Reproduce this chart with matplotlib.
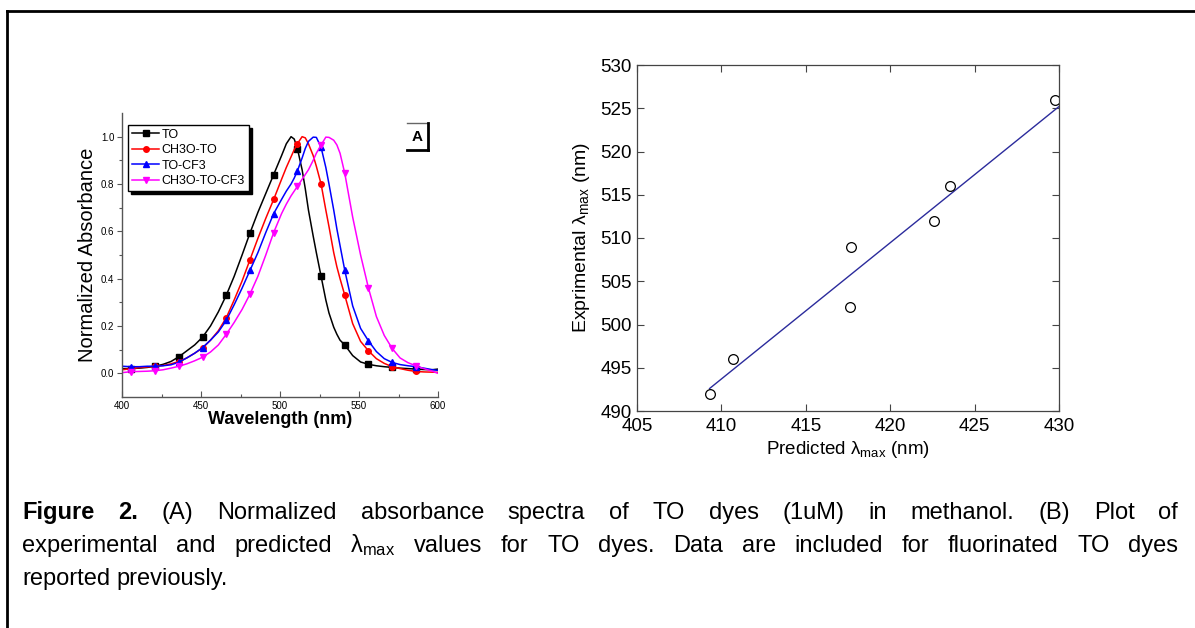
import matplotlib
matplotlib.use('Agg')
import matplotlib.pyplot as plt
from matplotlib.lines import Line2D
import numpy as np

plt.rcParams['font.family'] = ['Liberation Sans', 'DejaVu Sans']
plt.rcParams['mathtext.fontset'] = 'custom'
plt.rcParams['mathtext.rm'] = 'Liberation Sans'
plt.rcParams['mathtext.it'] = 'Liberation Sans:italic'

# ---- panel A: normalized absorbance spectra ----
wavelength = [400, 406, 411, 416, 421, 426, 431, 436, 441, 446, 451, 456, 461, 466, 471,
              476, 481, 486, 491, 496, 501, 504, 507, 509, 511, 514, 516, 518, 521, 523,
              526, 529, 531, 534, 536, 538, 541, 546, 551, 556, 561, 566, 571, 576, 581,
              586, 591, 596, 600]
abs_to = [0.020, 0.020, 0.022, 0.025, 0.030, 0.038, 0.050, 0.070, 0.095, 0.120, 0.153, 0.200,
          0.260, 0.330, 0.410, 0.500, 0.593, 0.680, 0.760, 0.840, 0.920, 0.970, 1.000, 0.990,
          0.950, 0.860, 0.780, 0.690, 0.580, 0.510, 0.410, 0.310, 0.255, 0.195, 0.165, 0.140,
          0.120, 0.075, 0.048, 0.038, 0.032, 0.028, 0.025, 0.022, 0.020, 0.018, 0.016, 0.015,
          0.018]
abs_ch3o_to = [0.015, 0.020, 0.024, 0.027, 0.030, 0.033, 0.040, 0.050, 0.065, 0.085, 0.107,
               0.140, 0.180, 0.235, 0.310, 0.390, 0.480, 0.570, 0.655, 0.735, 0.820, 0.870,
               0.915, 0.945, 0.970, 1.000, 0.995, 0.970, 0.920, 0.875, 0.800, 0.690, 0.620,
               0.510, 0.450, 0.400, 0.330, 0.210, 0.135, 0.095, 0.062, 0.042, 0.028, 0.020,
               0.013, 0.008, 0.006, 0.005, 0.004]
abs_to_cf3 = [0.030, 0.028, 0.028, 0.030, 0.030, 0.032, 0.036, 0.047, 0.065, 0.085, 0.109,
              0.140, 0.175, 0.224, 0.290, 0.360, 0.435, 0.510, 0.595, 0.675, 0.735, 0.770,
              0.800, 0.825, 0.855, 0.910, 0.950, 0.980, 0.998, 0.997, 0.955, 0.870, 0.800,
              0.690, 0.610, 0.540, 0.435, 0.285, 0.190, 0.137, 0.092, 0.062, 0.046, 0.037,
              0.032, 0.028, 0.022, 0.016, 0.012]
abs_ch3o_to_cf3 = [0.003, 0.007, 0.008, 0.009, 0.011, 0.015, 0.022, 0.030, 0.040, 0.053, 0.068,
                   0.090, 0.120, 0.165, 0.215, 0.270, 0.335, 0.410, 0.500, 0.595, 0.675, 0.715,
                   0.750, 0.770, 0.790, 0.820, 0.840, 0.860, 0.900, 0.930, 0.965, 0.998, 0.997,
                   0.985, 0.965, 0.930, 0.845, 0.660, 0.500, 0.360, 0.240, 0.160, 0.105, 0.065,
                   0.045, 0.032, 0.020, 0.010, 0.000]
marker_wl = [406, 421, 436, 451, 466, 481, 496, 511, 526, 541, 556, 571, 586]
dye_names = ['TO', 'CH3O-TO', 'TO-CF3', 'CH3O-TO-CF3']
dye_colors = ['black', '#ff0000', '#0000ff', '#ff00ff']
dye_markers = ['s', 'o', '^', 'v']

# ---- panel B: predicted vs experimental lambda max ----
pred_lmax = [409.3, 410.7, 417.65, 417.6, 422.6, 423.55, 429.75]
exp_lmax = [492, 496, 509, 502, 512, 516, 526]
fit_x = [409.3, 430.0]
fit_y = [492.6, 525.2]

W, H = 1195, 628
fig = plt.figure(figsize=(W / 100, H / 100), dpi=100, facecolor='white')

# panel A
axA = fig.add_axes([122 / W, 1 - 397 / H, 316 / W, 284 / H])
mk_idx = [wavelength.index(w) for w in marker_wl]
for vals, name, c, m in zip([abs_to, abs_ch3o_to, abs_to_cf3, abs_ch3o_to_cf3],
                            dye_names, dye_colors, dye_markers):
    axA.plot(wavelength, vals, color=c, lw=1.1, marker=m, ms=4, markevery=mk_idx, label=name)
axA.set_xlim(400, 600)
axA.set_ylim(-0.1, 1.1)
axA.set_xticks([400, 450, 500, 550, 600])
axA.set_xticks([425, 475, 525, 575], minor=True)
axA.set_yticks([0.0, 0.2, 0.4, 0.6, 0.8, 1.0])
axA.set_yticks([0.1, 0.3, 0.5, 0.7, 0.9], minor=True)
axA.set_yticklabels(['0.0', '0.2', '0.4', '0.6', '0.8', '1.0'])
axA.spines['top'].set_visible(False)
axA.spines['right'].set_visible(False)
for s in ['left', 'bottom']:
    axA.spines[s].set_color('#555555')
    axA.spines[s].set_linewidth(1.0)
axA.tick_params(axis='both', which='both', labelsize=7, color='#555555', width=0.8)
axA.tick_params(axis='x', which='major', direction='in', length=4, pad=3)
axA.tick_params(axis='x', which='minor', direction='in', length=2.5)
axA.tick_params(axis='y', which='major', direction='out', length=3.5, pad=2)
axA.tick_params(axis='y', which='minor', direction='out', length=2)
axA.set_xlabel('Wavelength (nm)', fontsize=13, fontweight='bold', labelpad=0)
axA.set_ylabel('Normalized Absorbance', fontsize=14.5, labelpad=3)
leg = axA.legend(loc='upper left', bbox_to_anchor=(0.019, 0.958), borderaxespad=0,
                 fontsize=9, frameon=True, fancybox=False, edgecolor='black',
                 handlelength=2.2, handletextpad=0.2, labelspacing=0.28,
                 borderpad=0.3, shadow={'color': 'black', 'alpha': 1.0})
leg.get_frame().set_linewidth(1.0)
axA.text(0.935, 0.915, 'A', transform=axA.transAxes, fontsize=11, fontweight='bold',
         ha='center', va='center')
axA.plot([0.902, 0.968], [0.965, 0.965], transform=axA.transAxes, color='#666666', lw=1,
         clip_on=False)
axA.plot([0.968, 0.968], [0.965, 0.87], transform=axA.transAxes, color='black', lw=2,
         clip_on=False)
axA.plot([0.902, 0.968], [0.87, 0.87], transform=axA.transAxes, color='black', lw=2,
         clip_on=False)

# panel B
axB = fig.add_axes([637 / W, 1 - 411 / H, 422 / W, 346 / H])
axB.plot(fit_x, fit_y, color='#2b2b9c', lw=1.0)
axB.plot(pred_lmax, exp_lmax, linestyle='none', marker='o', ms=7, mfc='none',
         mec='black', mew=0.9)
axB.set_xlim(405, 430)
axB.set_ylim(490, 530)
axB.set_xticks([405, 410, 415, 420, 425, 430])
axB.set_yticks([490, 495, 500, 505, 510, 515, 520, 525, 530])
for s in axB.spines.values():
    s.set_color('#444444')
    s.set_linewidth(0.9)
axB.tick_params(axis='both', direction='in', length=5, width=0.8, color='#444444',
                labelsize=13.5, top=True, right=True)
axB.tick_params(axis='x', pad=5)
axB.tick_params(axis='y', pad=4)
axB.set_xlabel('Predicted λ$_{\\mathrm{max}}$ (nm)', fontsize=13.5, labelpad=3)
axB.set_ylabel('Exprimental λ$_{\\mathrm{max}}$ (nm)', fontsize=14, labelpad=6)

# outer frame (top and left edges)
fig.add_artist(Line2D([7 / W, 1.0], [1 - 11 / H, 1 - 11 / H], transform=fig.transFigure,
                      color='black', lw=2))
fig.add_artist(Line2D([7 / W, 7 / W], [0, 1 - 11 / H], transform=fig.transFigure,
                      color='black', lw=2))

# caption, justified like the source document
caption_lines = [
    [('Figure', 'bold'), ('2.', 'bold'), ('(A)', 'normal'), ('Normalized', 'normal'),
     ('absorbance', 'normal'), ('spectra', 'normal'), ('of', 'normal'), ('TO', 'normal'),
     ('dyes', 'normal'), ('(1uM)', 'normal'), ('in', 'normal'), ('methanol.', 'normal'),
     ('(B)', 'normal'), ('Plot', 'normal'), ('of', 'normal')],
    [(w, 'normal') for w in ['experimental', 'and', 'predicted', 'λ$_{\\mathrm{max}}$',
                             'values', 'for', 'TO', 'dyes.', 'Data', 'are', 'included',
                             'for', 'fluorinated', 'TO', 'dyes']],
    [(w, 'normal') for w in ['reported', 'previously.']],
]
baselines = [519, 552, 585]
x_left, x_right = 22, 1178
cap_size = 17

fig.canvas.draw()
r = fig.canvas.get_renderer()
sp = fig.text(0, 0, 'a a', fontsize=cap_size)
sp2 = fig.text(0, 0, 'aa', fontsize=cap_size)
space_w = sp.get_window_extent(r).width - sp2.get_window_extent(r).width
sp.remove()
sp2.remove()
for i, (words, yb) in enumerate(zip(caption_lines, baselines)):
    texts = [fig.text(0, 1 - yb / H, w, fontsize=cap_size, fontweight=fw,
                      va='baseline', ha='left') for w, fw in words]
    widths = [t.get_window_extent(r).width for t in texts]
    if i < len(caption_lines) - 1:
        gap = (x_right - x_left - sum(widths)) / (len(texts) - 1)
    else:
        gap = space_w
    x = x_left
    for t, w in zip(texts, widths):
        t.set_x(x / W)
        x += w + gap

fig.savefig('out.png', dpi=100, facecolor='white')
